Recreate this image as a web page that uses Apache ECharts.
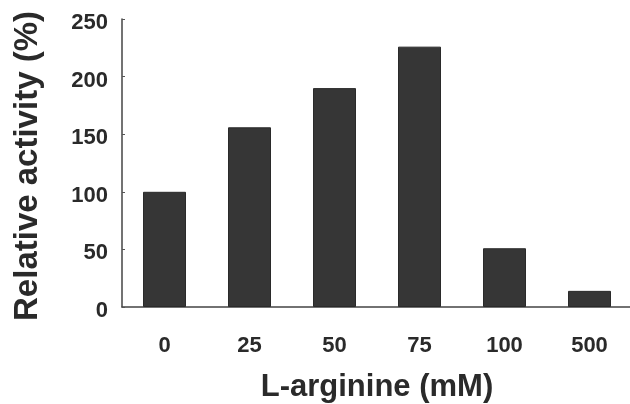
<!DOCTYPE html>
<html>
<head>
<meta charset="utf-8">
<script src="https://cdn.jsdelivr.net/npm/echarts@6/dist/echarts.min.js"></script>
<style>html,body{margin:0;padding:0;background:#fff;}#c{width:630px;height:404px;}</style>
</head>
<body>
<div id="c"></div>
<script>
const categories = ['0', '25', '50', '75', '100', '500'];
const activity = [100, 156, 190, 226, 51, 14];
const yTicks = [0, 50, 100, 150, 200, 250];

const chart = echarts.init(document.getElementById('c'), null, {renderer: 'canvas'});
const font = '"Liberation Sans", Arial, sans-serif';
chart.setOption({
  animation: false,
  backgroundColor: '#ffffff',
  grid: {left: 122, top: 19, width: 510, height: 288, containLabel: false, outerBoundsMode: 'none'},
  xAxis: {
    type: 'category',
    data: categories,
    name: 'L-arginine (mM)',
    nameLocation: 'middle',
    nameGap: 65,
    nameTextStyle: {fontFamily: font, fontWeight: 'bold', fontSize: 31, color: '#2a2a2a'},
    axisLine: {show: true, lineStyle: {color: '#444', width: 1.5}},
    axisTick: {show: false},
    axisLabel: {fontFamily: font, fontWeight: 'bold', fontSize: 22, color: '#2a2a2a', margin: 28}
  },
  yAxis: {
    type: 'value',
    min: yTicks[0],
    max: yTicks[yTicks.length - 1],
    interval: 50,
    name: 'Relative activity (%)',
    nameLocation: 'middle',
    nameGap: 78,
    nameTextStyle: {fontFamily: font, fontWeight: 'bold', fontSize: 33, color: '#2a2a2a', padding: [0, 6, 0, 0]},
    axisLine: {show: true, lineStyle: {color: '#444', width: 1.5}},
    axisTick: {show: true, inside: true, length: 3, lineStyle: {color: '#555', width: 1}},
    splitLine: {show: false},
    axisLabel: {
      fontFamily: font, fontWeight: 'bold', fontSize: 22, color: '#2a2a2a', margin: 14,
      formatter: function (v) { return '{t|' + v + '}'; },
      rich: {t: {fontFamily: font, fontWeight: 'bold', fontSize: 22, color: '#2a2a2a', padding: [8, 0, 0, 0]}}
    }
  },
  series: [{
    type: 'bar',
    data: activity,
    barWidth: 43,
    itemStyle: {color: '#363636', borderColor: '#2a2a2a', borderWidth: 1}
  }]
});
</script>
</body>
</html>
